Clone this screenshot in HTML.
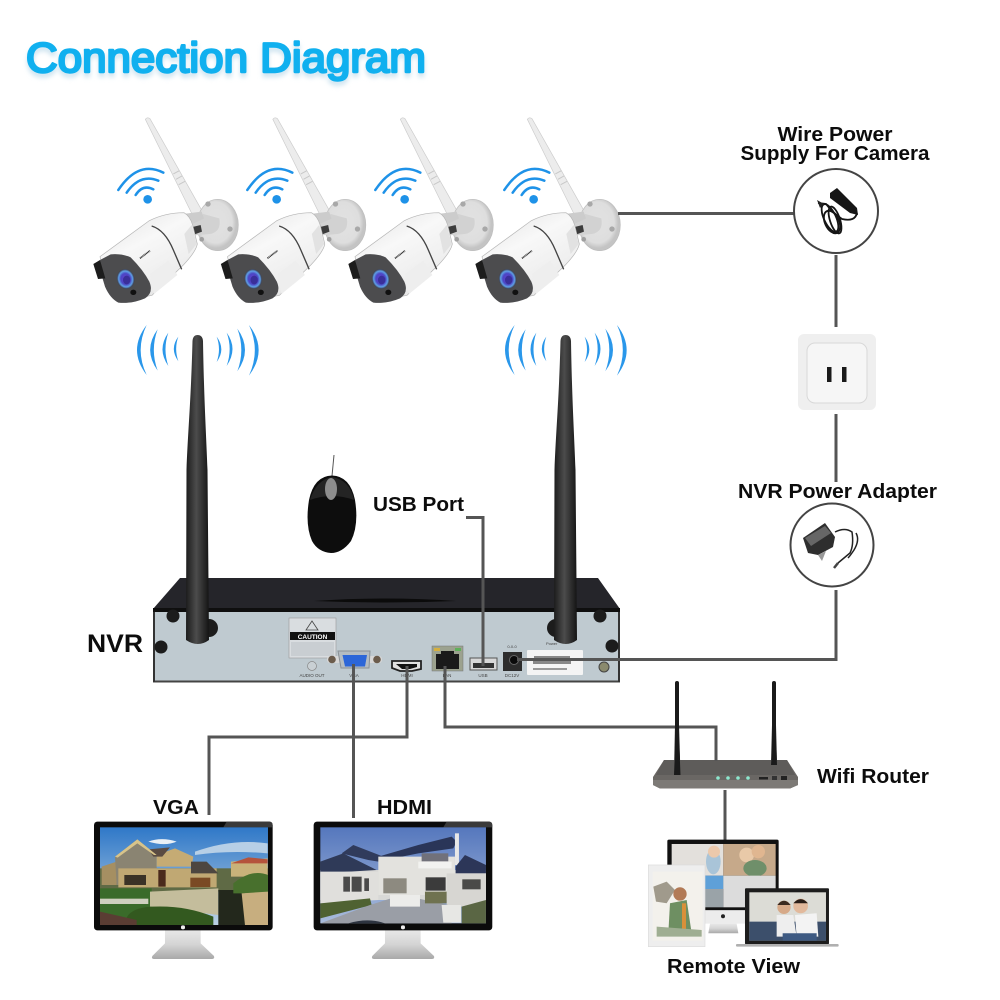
<!DOCTYPE html>
<html><head><meta charset="utf-8"><style>
html,body{margin:0;padding:0;background:#fff}
svg{display:block}
text{font-family:"Liberation Sans",sans-serif;font-weight:bold;fill:#0c0c0c}
</style></head><body>
<svg width="1000" height="1000" viewBox="0 0 1000 1000" xmlns="http://www.w3.org/2000/svg">
<defs>
<linearGradient id="bd" x1="0.2" y1="0" x2="0.8" y2="1"><stop offset="0" stop-color="#e6e6e6"/><stop offset=".35" stop-color="#f8f8f8"/><stop offset=".8" stop-color="#ececec"/><stop offset="1" stop-color="#c9c9c9"/></linearGradient>
<linearGradient id="ant" x1="0" y1="0" x2="1" y2="0"><stop offset="0" stop-color="#1c1c1c"/><stop offset=".45" stop-color="#4c4c4c"/><stop offset="1" stop-color="#141414"/></linearGradient>
<linearGradient id="sky1" x1="0" y1="0" x2="0" y2="1"><stop offset="0" stop-color="#2f78c8"/><stop offset="1" stop-color="#bcd2e4"/></linearGradient>
<linearGradient id="sky2" x1="0" y1="0" x2="0" y2="1"><stop offset="0" stop-color="#5577bd"/><stop offset="1" stop-color="#a9bcdc"/></linearGradient>
<linearGradient id="stand" x1="0" y1="0" x2="0" y2="1"><stop offset="0" stop-color="#e8e8e8"/><stop offset=".5" stop-color="#d4d4d4"/><stop offset="1" stop-color="#a8a8a8"/></linearGradient>
<radialGradient id="lens"><stop offset="0" stop-color="#6a3fd0"/><stop offset=".55" stop-color="#4b46c4"/><stop offset=".8" stop-color="#5fa0e6"/><stop offset="1" stop-color="#3a3a4a"/></radialGradient>
<radialGradient id="disc" cx=".45" cy=".45"><stop offset="0" stop-color="#e2e2e2"/><stop offset=".8" stop-color="#dedede"/><stop offset="1" stop-color="#c4c4c4"/></radialGradient>
<filter id="glow" x="-10%" y="-30%" width="120%" height="160%"><feGaussianBlur stdDeviation="2.5"/></filter>

<g id="cam">
 <!-- antenna -->
 <path d="M166 28 Q172 20 180 26 L336 302 L310 320 Z" fill="#ececec" stroke="#cccccc" stroke-width="2"/>
 <path d="M250 192 L268 182 M258 208 L276 198 M266 224 L285 214" stroke="#c8c8c8" stroke-width="3"/>
 <!-- mount disc -->
 <ellipse cx="383" cy="345" rx="62" ry="77" fill="url(#disc)" stroke="#bdbdbd" stroke-width="2"/>
 <path d="M340 312 L388 325 Q395 365 360 372 L312 376 L300 345 Z" fill="#d2d2d2"/>
 <circle cx="354" cy="282" r="8" fill="#a8a8a8"/><circle cx="420" cy="357" r="8" fill="#a8a8a8"/><circle cx="335" cy="388" r="7" fill="#9f9f9f"/>
 <path d="M303 352 L332 345 L336 365 L312 374 Z" fill="#3c3c3c"/>
 <path d="M278 312 L335 305 L342 326 L300 345 Z" fill="#cccccc"/>
 <!-- body -->
 <path d="M30 440 L178 332 Q226 308 282 308 Q300 318 308 345 L322 402 Q318 425 280 465 L186 556 L110 570 L40 480 Z" fill="url(#bd)" stroke="#b5b5b5" stroke-width="2"/>
 <path d="M185 348 Q225 360 250 420 L275 478" fill="none" stroke="#444" stroke-width="4"/>
 <path d="M180 492 L235 452 L262 495 L192 552 Z" fill="#eeeeee"/>
 <path d="M283 372 L305 345 L320 402 L296 432 Z" fill="#e2e2e2"/>
 <!-- face -->
 <path d="M30 450 L62 433 Q95 430 122 442 Q160 480 178 515 Q192 548 165 565 Q125 582 85 578 Q60 565 45 530 L36 500 Z" fill="#4c4c4e"/>
 <path d="M10 462 L30 450 L46 505 L24 507 Z" fill="#1c1c1c"/>
 <ellipse cx="107" cy="507" rx="26" ry="30" transform="rotate(-15 107 507)" fill="url(#lens)"/>
 <ellipse cx="110" cy="510" rx="11" ry="13" fill="#3a2f9a"/>
 <ellipse cx="130" cy="547" rx="9" ry="8" fill="#111"/>
 <path d="M150 445 L180 422" stroke="#333" stroke-width="5" stroke-dasharray="3 1.5"/>
</g>

<g id="wifi">
 <circle cx="173" cy="268" r="13" fill="#1e92e8"/>
 <g fill="none" stroke="#1e92e8" stroke-width="7.500" stroke-linecap="round">
  <path d="M85 240 Q145 150 220 188"/>
  <path d="M110 248 Q150 190 205 212"/>
  <path d="M137 255 Q158 222 190 238"/>
 </g>
</g>

<g id="sig" fill="#2a97ea">
 <path d="M170 645 Q112 720 170 795 Q134 720 170 645Z"/>
 <path d="M203 658 Q158 720 203 782 Q180 720 203 658Z"/>
 <path d="M235 668 Q200 718 235 768 Q218 718 235 668Z"/>
 <path d="M265 680 Q238 716 265 754 Q252 716 265 680Z"/>
 <path d="M380 680 Q408 718 380 756 Q394 718 380 680Z"/>
 <path d="M410 668 Q445 716 410 768 Q428 716 410 668Z"/>
 <path d="M442 656 Q488 720 442 784 Q466 720 442 656Z"/>
 <path d="M477 645 Q535 720 477 797 Q512 720 477 645Z"/>
</g>

<g id="nant">
 <path d="M192.500 341 Q193 335 197.500 335 Q202.500 335 203 341 C204 400 206 430 207.500 470 L209 640 Q198 648 186 640 L186.500 470 C188 430 191 400 192.500 341 Z" fill="url(#ant)"/>
</g>
</defs>

<rect width="1000" height="1000" fill="#fff"/>

<!-- Title -->
<text x="26" y="76" font-size="42" textLength="400" lengthAdjust="spacingAndGlyphs" style="fill:#cfe4f0;font-weight:normal" stroke="#cfe4f0" stroke-width="2.400" filter="url(#glow)">Connection Diagram</text>
<text x="26" y="72" font-size="42" textLength="400" lengthAdjust="spacingAndGlyphs" style="fill:#10b0ef;font-weight:normal" stroke="#10b0ef" stroke-width="2.400" stroke-linejoin="round">Connection Diagram</text>

<!-- Cameras -->
<use href="#cam" transform="translate(90,110) scale(.3333)"/>
<use href="#cam" transform="translate(217.5,110) scale(.3333)"/>
<use href="#cam" transform="translate(345,110) scale(.3333)"/>
<use href="#cam" transform="translate(472,110) scale(.3333)"/>
<use href="#wifi" transform="translate(90,110) scale(.3333)"/>
<use href="#wifi" transform="translate(219,110) scale(.3333)"/>
<use href="#wifi" transform="translate(347,110) scale(.3333)"/>
<use href="#wifi" transform="translate(476,110) scale(.3333)"/>

<!-- Signals -->
<use href="#sig" transform="translate(90,110) scale(.3333)"/>
<use href="#sig" transform="translate(458,110) scale(.3333)"/>

<!-- Mouse -->
<path d="M334 455 L332 476" fill="none" stroke="#555" stroke-width="1"/>
<path d="M332 475.500 Q350 476 355 500 Q359 525 351 541 Q342 553 331 553 Q318 552 312 541 Q305 525 309 500 Q314 476 332 475.500Z" fill="#0d0d0d"/>
<path d="M310 500 Q316 480 332 477 Q350 480 354 500 Q332 492 310 500Z" fill="#242424"/>
<ellipse cx="331" cy="489" rx="6" ry="11" fill="#8d8d8d"/>

<!-- NVR -->
<path d="M180 578 L598 578 L620 609 L153 609 Z" fill="#25252a"/>
<path d="M314 601 Q385 596 456 601 Q385 604 314 601Z" fill="#0b0b0b"/>
<rect x="153" y="608" width="467" height="4.500" fill="#0f0f0f"/>
<rect x="153" y="612" width="467" height="70" fill="#bfcad0"/>
<rect x="153" y="680.500" width="467" height="2" fill="#444"/>
<rect x="153" y="612" width="2" height="70" fill="#333"/><rect x="618" y="612" width="2" height="70" fill="#333"/>
<g fill="#1c1c1c">
<circle cx="173" cy="616" r="6.500"/><circle cx="161" cy="647" r="6.500"/><circle cx="600" cy="616" r="6.500"/><circle cx="612" cy="646" r="6.500"/>
<circle cx="209" cy="628" r="9"/><circle cx="556" cy="628" r="9"/>
</g>
<!-- caution -->
<rect x="289" y="618" width="47" height="40" fill="#d9dde0" stroke="#999" stroke-width=".6"/>
<rect x="290" y="632" width="45" height="8" fill="#111"/>
<text x="312.500" y="639" font-size="6.500" text-anchor="middle" style="fill:#fff">CAUTION</text>
<path d="M312 621 L318 630 L306 630Z" fill="none" stroke="#444" stroke-width=".8"/>
<rect x="291" y="642" width="43" height="14" fill="#c9ced2"/>
<!-- audio -->
<circle cx="312" cy="666" r="4.500" fill="#c9d0d4" stroke="#888" stroke-width=".7"/>
<text x="312" y="677" font-size="4.500" text-anchor="middle" style="fill:#444;font-weight:normal">AUDIO OUT</text>
<!-- VGA -->
<rect x="327" y="656" width="55" height="7" fill="#d8d8d8" rx="3"/>
<circle cx="332" cy="659.500" r="3.800" fill="#6b5c4c"/><circle cx="377" cy="659.500" r="3.800" fill="#6b5c4c"/>
<path d="M338 651 L370 651 L369 668 L341 668 Z" fill="#b4bcc2" stroke="#8a9095"/>
<path d="M342.500 655 L367 655 L365 666.500 L345 666.500 Z" fill="#2c66d8"/>
<text x="354" y="677" font-size="4.500" text-anchor="middle" style="fill:#444;font-weight:normal">VGA</text>
<!-- HDMI -->
<path d="M392 661 L421 661 L421 669 L412 671 L400 671 L392 668 Z" fill="#e0e0e0" stroke="#222" stroke-width="1.800"/>
<path d="M396 664 L417 664 L417 667 L410 669 L402 669 Z" fill="#111"/>
<text x="407" y="677" font-size="4.500" text-anchor="middle" style="fill:#444;font-weight:normal">HDMI</text>
<!-- LAN -->
<rect x="432" y="646" width="31" height="25" fill="#9ca28f" stroke="#777" stroke-width=".5"/>
<path d="M436 654 L441 654 L441 651 L454 651 L454 654 L459 654 L459 669 L436 669Z" fill="#1a1a1a"/>
<rect x="434" y="648" width="6" height="3" fill="#d6b040"/><rect x="455" y="648" width="6" height="3" fill="#5fb05a"/>
<text x="447" y="677" font-size="4.500" text-anchor="middle" style="fill:#444;font-weight:normal">LAN</text>
<!-- USB -->
<rect x="470" y="658" width="27" height="12" fill="#d8d8d8" stroke="#555"/>
<rect x="473" y="663" width="21" height="5" fill="#333"/>
<text x="483" y="677" font-size="4.500" text-anchor="middle" style="fill:#444;font-weight:normal">USB</text>
<!-- DC -->
<rect x="503" y="652" width="19" height="19" fill="#2c2c2c"/><circle cx="514" cy="660" r="4.500" fill="#0a0a0a" stroke="#666"/>
<text x="512" y="648" font-size="4" text-anchor="middle" style="fill:#444;font-weight:normal">0-0-0</text>
<text x="512" y="677" font-size="4.500" text-anchor="middle" style="fill:#444;font-weight:normal">DC12V</text>
<!-- label sticker -->
<rect x="527" y="650" width="56" height="25" rx="1" fill="#f4f4f4"/>
<rect x="534" y="656" width="36" height="2" fill="#888"/><rect x="533" y="661" width="38" height="3" fill="#888"/><rect x="533" y="668" width="34" height="2" fill="#999"/>
<text x="546" y="645" font-size="4" style="fill:#444;font-weight:normal">Power</text>
<circle cx="604" cy="667" r="5" fill="#8a8a6e" stroke="#444"/>

<!-- Antennas -->
<use href="#nant"/>
<use href="#nant" transform="translate(368,0)"/>

<!-- Connectors -->
<g fill="none" stroke="#555" stroke-width="3">
<path d="M618 213.500 L795 213.500"/>
<path d="M836 255 V327"/>
<path d="M836 414 V482"/>
<path d="M836 590 V659.500 H517"/>
<path d="M466 517.500 H483 V666"/>
<path d="M353.500 664 V818"/>
<path d="M407 666 V737 H209 V815"/>
<path d="M445 666 V727 H716 V761"/>
<path d="M725 790 V841"/>
</g>

<!-- Wire power circle -->
<circle cx="836" cy="211" r="42" fill="#fff" stroke="#444" stroke-width="2"/>
<path d="M830 193 L837 188 L857 208 L858 215 L850 213 L830 198Z" fill="#161616"/>
<g fill="none" stroke="#151515" stroke-width="1.800">
<path d="M857 213 Q855 222 842 219 Q832 212 826 204 L818 203"/>
<ellipse cx="830" cy="218" rx="6" ry="15" transform="rotate(-25 830 218)"/>
<ellipse cx="835" cy="220" rx="5" ry="14" transform="rotate(-18 835 220)"/>
<ellipse cx="832" cy="222" rx="7" ry="12" transform="rotate(-25 832 222)"/>
</g>
<path d="M817 200 L824 204 L820 208Z" fill="#222"/>
<!-- Outlet -->
<rect x="798" y="334" width="78" height="76" rx="6" fill="#efefef"/>
<rect x="807" y="343" width="60" height="60" rx="8" fill="#f6f6f6" stroke="#d8d8d8"/>
<rect x="827" y="367" width="4.500" height="15" fill="#1a1a1a"/>
<rect x="842" y="367" width="4.500" height="15" fill="#1a1a1a"/>
<!-- NVR adapter circle -->
<circle cx="832" cy="545" r="41.500" fill="#fff" stroke="#444" stroke-width="2"/>
<path d="M803 538 L825 523 L835 537 L833 547 L818 555 L808 553Z" fill="#2e2e2e"/>
<path d="M805 538 L825 526 L831 533 L811 546Z" fill="#666"/>
<path d="M818 555 L822 561 L826 551Z" fill="#999"/>
<g fill="none" stroke="#222" stroke-width="1.500">
<path d="M835 532 Q845 527 852 532 Q854 545 850 553 L838 563"/>
<path d="M856 533 Q860 540 854 550 Q850 556 848 558"/>
</g>
<path d="M838 563 L834 568" stroke="#444" stroke-width="2.500"/>

<!-- Router -->
<rect x="675" y="681" width="4" height="50" fill="#1a1a1a" rx="2"/>
<path d="M675 725 L679 725 L680.500 775 L674 775Z" fill="#1a1a1a"/>
<rect x="772" y="681" width="4" height="50" fill="#1a1a1a" rx="2"/>
<path d="M772 725 L776 725 L777 765 L771 765Z" fill="#1a1a1a"/>
<path d="M653 777 L664 760 L787 760 L798 777 L798 785 L790 788.500 L660 788.500 L653 785Z" fill="#6a6764"/>
<path d="M664 760 L787 760 L795 775 L656 775Z" fill="#5e5c5a"/>
<path d="M653 780 L798 780 L798 785 L790 788.500 L660 788.500 L653 785Z" fill="#7d7a76"/>
<path d="M675 750 L679.500 750 L680.500 775 L674 775Z" fill="#1a1a1a"/>
<path d="M772 750 L776.500 750 L777 765 L771 765Z" fill="#1a1a1a"/>
<path d="M716 750 V761" stroke="#555" stroke-width="3"/>
<g fill="#8de8cf"><circle cx="718" cy="778" r="1.800"/><circle cx="728" cy="778" r="1.800"/><circle cx="738" cy="778" r="1.800"/><circle cx="748" cy="778" r="1.800"/></g>
<rect x="759" y="777" width="9" height="2.500" fill="#222"/><rect x="772" y="776" width="5" height="4" fill="#333"/><rect x="781" y="776" width="6" height="4" fill="#222"/>

<!-- Remote view (zoom coords) -->
<g transform="translate(630,670) scale(.3333)">
 <rect x="112" y="509" width="334" height="212" rx="5" fill="#111"/>
 <rect x="125" y="522" width="155" height="95" fill="#e3e0dc"/>
 <ellipse cx="250" cy="575" rx="22" ry="38" fill="#a9c4d8"/><circle cx="252" cy="545" r="18" fill="#ecc9ac"/>
 <rect x="280" y="522" width="157" height="95" fill="#c6a98a"/>
 <circle cx="350" cy="555" r="22" fill="#e9c9a8"/><circle cx="385" cy="545" r="20" fill="#e0b690"/>
 <ellipse cx="375" cy="595" rx="35" ry="25" fill="#6f8f6a"/>
 <rect x="125" y="617" width="155" height="95" fill="#9aa3a8"/>
 <rect x="225" y="617" width="55" height="40" fill="#5ea0d8"/>
 <rect x="280" y="617" width="157" height="95" fill="#dcdcdc"/>
 <rect x="345" y="675" width="85" height="30" fill="#8c8c8c"/>
 <rect x="112" y="721" width="334" height="40" fill="#ececec"/>
 <circle cx="279" cy="739" r="6" fill="#222"/>
 <path d="M240 761 L320 761 L325 790 L235 790Z" fill="url(#stand)"/>
 <!-- tablet -->
 <rect x="55" y="585" width="170" height="245" fill="#eeeeee" stroke="#dcdcdc" stroke-width="2"/>
 <rect x="68" y="605" width="150" height="207" fill="#f3f1ec"/>
 <path d="M70 650 L110 635 L135 660 L110 700 L78 695Z" fill="#a09a8c"/>
 <circle cx="150" cy="672" r="20" fill="#b27a56"/>
 <path d="M120 700 L170 690 L185 790 L115 790Z" fill="#6e8f62"/>
 <rect x="156" y="700" width="12" height="90" fill="#d9903a"/>
 <path d="M80 770 L215 780 L215 800 L80 800Z" fill="#9fae92"/>
 <!-- laptop -->
 <rect x="345" y="655" width="252" height="168" rx="3" fill="#1d1d1d"/>
 <rect x="358" y="667" width="230" height="145" fill="#dcdcd6"/>
 <rect x="358" y="755" width="230" height="57" fill="#3c4f6b"/>
 <circle cx="462" cy="712" r="20" fill="#d6a988"/><path d="M442 705 Q462 680 482 705Z" fill="#3a2a20"/>
 <circle cx="512" cy="708" r="22" fill="#e2b99c"/><path d="M490 700 Q512 675 534 700Z" fill="#2a1e18"/>
 <path d="M440 735 L490 735 L500 800 L440 800Z" fill="#eee"/>
 <path d="M495 735 L560 730 L565 800 L500 800Z" fill="#f3f3f3"/>
 <path d="M458 790 L560 790 L560 812 L458 812Z" fill="#3e5a82"/>
 <rect x="318" y="822" width="308" height="8" rx="3" fill="#b0b0b0"/>
</g>

<!-- Big monitors (zoom coords) -->
<g transform="translate(85,810) scale(.3333)">
 <!-- monitor 1 -->
 <path d="M240 360 H347 V400 L387 438 Q390 447 380 447 H208 Q198 447 202 438 L240 400Z" fill="url(#stand)"/>
 <rect x="27" y="35" width="536" height="326" rx="10" fill="#0b0b0b"/>
 <path d="M425 35 H553 Q563 35 563 45 V52 H415Z" fill="#3a3a3a"/>
 <rect x="45" y="52" width="504" height="293" fill="url(#sky1)"/>
 <path d="M190 95 Q230 80 275 95 Q240 110 190 95Z" fill="#e9eff5"/>
 <path d="M330 125 Q440 85 548 100 L548 130 Q430 120 330 135Z" fill="#b7cfe6"/>
 <rect x="45" y="175" width="504" height="70" fill="#5f6a45"/>
 <path d="M50 170 L95 155 L95 225 L50 225Z" fill="#a58f62"/>
 <path d="M90 140 L157 88 L215 135 L215 225 L95 225Z" fill="#8a8472"/>
 <path d="M100 175 H395 V232 H100Z" fill="#c0a873"/>
 <path d="M215 135 L270 115 L325 140 L320 170 L215 170Z" fill="#c5ab74"/>
 <path d="M190 118 L255 112 L232 140 L205 140Z" fill="#5a4b42"/>
 <path d="M90 140 L157 88 L215 135 L207 135 L157 100 L98 143Z" fill="#d8c48a"/>
 <path d="M318 155 L365 155 L400 190 L318 190Z" fill="#4d4640"/>
 <rect x="316" y="203" width="60" height="28" fill="#7a4a24"/>
 <rect x="220" y="180" width="22" height="50" fill="#4a2a1c"/>
 <rect x="118" y="195" width="65" height="30" fill="#3a3226"/>
 <path d="M438 155 L548 145 L548 200 L438 200Z" fill="#c9b27a"/>
 <path d="M438 160 L490 142 L548 148 L548 160Z" fill="#b5533c"/>
 <rect x="45" y="235" width="155" height="110" fill="#3a6b2a"/>
 <rect x="45" y="266" width="145" height="16" fill="#cfd0bf"/>
 <path d="M195 245 L400 235 L400 315 L195 290Z" fill="#c4bd9c"/>
 <path d="M120 345 Q120 295 200 290 Q300 285 385 320 L385 345Z" fill="#33591f"/>
 <path d="M45 305 L155 330 L155 345 L45 345Z" fill="#5a3d33"/>
 <path d="M400 240 L480 240 L480 345 L400 345Z" fill="#23281c"/>
 <path d="M445 220 Q500 175 549 195 L549 250 L445 250Z" fill="#48702d"/>
 <path d="M470 250 L549 245 L549 345 L480 345Z" fill="#c7ae7f"/>
 <rect x="288" y="346" width="12" height="12" rx="5" fill="#eee"/>

 <!-- monitor 2 -->
 <path d="M900 360 H1007 V400 L1047 438 Q1050 447 1040 447 H868 Q858 447 862 438 L900 400Z" fill="url(#stand)"/>
 <rect x="686" y="35" width="536" height="326" rx="10" fill="#0b0b0b"/>
 <path d="M1085 35 H1212 Q1222 35 1222 45 V52 H1075Z" fill="#3a3a3a"/>
 <rect x="706" y="52" width="497" height="288" fill="url(#sky2)"/>
 <rect x="706" y="180" width="497" height="90" fill="#d8d8d6"/>
 <path d="M706 155 L775 130 L875 180 L706 190Z" fill="#2f3a58"/>
 <path d="M770 130 L805 105 L895 140 L880 155 L850 150Z" fill="#303b5c"/>
 <path d="M880 140 L1000 105 L1100 80 L1115 95 L1105 115 L1000 130 L900 150Z" fill="#2a3558"/>
 <path d="M1110 70 L1122 70 L1122 165 L1110 165Z" fill="#e7e7e7"/>
 <path d="M1112 170 L1140 135 L1203 165 L1203 190 L1112 190Z" fill="#2c3658"/>
 <path d="M880 140 H1110 V255 H880Z" fill="#e3e2de"/>
 <path d="M1000 155 H1100 V175 H1000Z" fill="#f2f2f0"/>
 <rect x="1010" y="130" width="80" height="24" fill="#71717a"/>
 <path d="M706 185 H880 V270 L706 280Z" fill="#e0dfdc"/>
 <rect x="775" y="200" width="20" height="45" fill="#4a4a4a"/><rect x="800" y="200" width="30" height="45" fill="#4a4a4a"/><rect x="838" y="205" width="14" height="38" fill="#4a4a4a"/>
 <rect x="895" y="205" width="70" height="45" fill="#8d8a80"/>
 <rect x="1022" y="202" width="60" height="40" fill="#3b3b3b"/>
 <path d="M1085 190 H1203 V290 H1085Z" fill="#d7d6d2"/>
 <rect x="1132" y="208" width="55" height="30" fill="#4a4a48"/>
 <path d="M706 280 L855 265 L860 285 L706 325Z" fill="#4f6232"/>
 <path d="M706 340 L855 285 L950 255 L1090 285 L1100 340Z" fill="#9a9ea6"/>
 <path d="M915 255 H1005 V290 H915Z" fill="#ececea"/>
 <path d="M1020 245 H1085 V280 H1020Z" fill="#6f7250"/>
 <path d="M1070 285 H1128 V338 L1075 338Z" fill="#e7e7e4"/>
 <path d="M1130 290 L1203 270 L1203 340 L1130 340Z" fill="#5a6644"/>
 <path d="M790 340 Q850 322 900 340Z" fill="#2d3440"/>
 <rect x="948" y="346" width="12" height="12" rx="5" fill="#eee"/>
</g>

<!-- Labels -->
<text x="835" y="141" font-size="20" text-anchor="middle" textLength="115" lengthAdjust="spacingAndGlyphs">Wire Power</text>
<text x="835" y="160" font-size="20" text-anchor="middle" textLength="189" lengthAdjust="spacingAndGlyphs">Supply For Camera</text>
<text x="373" y="511" font-size="20" textLength="91" lengthAdjust="spacingAndGlyphs">USB Port</text>
<text x="738" y="498" font-size="20" textLength="199" lengthAdjust="spacingAndGlyphs">NVR Power Adapter</text>
<text x="87" y="652" font-size="25" textLength="56" lengthAdjust="spacingAndGlyphs">NVR</text>
<text x="817" y="783" font-size="20" textLength="112" lengthAdjust="spacingAndGlyphs">Wifi Router</text>
<text x="153" y="814" font-size="20" textLength="46" lengthAdjust="spacingAndGlyphs">VGA</text>
<text x="377" y="814" font-size="20" textLength="55" lengthAdjust="spacingAndGlyphs">HDMI</text>
<text x="667" y="973" font-size="20" textLength="133" lengthAdjust="spacingAndGlyphs">Remote View</text>
</svg>
</body></html>
